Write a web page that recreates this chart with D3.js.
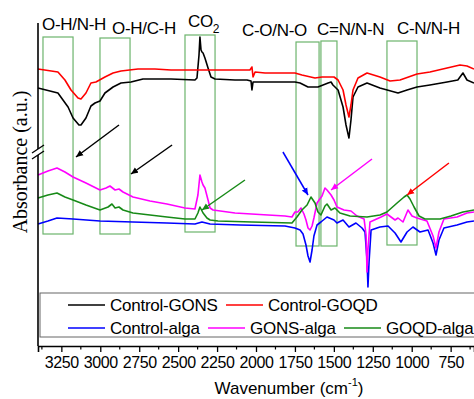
<!DOCTYPE html>
<html>
<head>
<meta charset="utf-8">
<script src="https://cdn.jsdelivr.net/npm/d3@7/dist/d3.min.js"></script>
<style>
  body { margin: 0; background: #fff; }
  svg { display: block; }
  text { font-family: "Liberation Sans", Arial, sans-serif; fill: #000; }
</style>
</head>
<body>
<div id="chart"></div>
<script>
// spectra as [wavenumber (cm-1), absorbance (a.u.)]
const controlGONS = [
  [3400,2.58],[3272,2.53],[3207,2.39],[3175,2.28],[3137,2.21],[3124,2.21],[3092,2.28],[3060,2.40],
  [3034,2.43],[3002,2.45],[2970,2.53],[2918,2.59],[2867,2.63],[2803,2.64],[2726,2.67],[2546,2.67],
  [2392,2.66],[2379,2.68],[2366,2.91],[2360,3.09],[2353,2.96],[2347,2.94],[2340,2.93],[2328,2.88],
  [2308,2.78],[2289,2.69],[2263,2.67],[2135,2.66],[2058,2.66],[2032,2.65],[2026,2.56],[2019,2.64],
  [1942,2.64],[1750,2.64],[1717,2.63],[1666,2.59],[1602,2.59],[1537,2.63],[1518,2.64],[1506,2.61],
  [1473,2.56],[1441,2.39],[1422,2.21],[1403,2.08],[1390,2.26],[1377,2.49],[1345,2.59],[1287,2.63],
  [1204,2.58],[1088,2.53],[1030,2.56],[966,2.59],[883,2.61],[773,2.64],[704,2.66],[671,2.73],
  [645,2.66],[600,2.63]
];
const controlGOQD = [
  [3400,2.77],[3272,2.74],[3227,2.66],[3188,2.56],[3143,2.48],[3124,2.47],[3092,2.53],[3060,2.63],
  [3028,2.64],[2970,2.69],[2918,2.73],[2867,2.75],[2758,2.77],[2649,2.77],[2546,2.76],[2437,2.76],
  [2039,2.76],[2026,2.79],[2019,2.69],[2006,2.74],[1942,2.73],[1750,2.73],[1705,2.71],[1621,2.68],
  [1576,2.69],[1499,2.69],[1473,2.66],[1441,2.56],[1422,2.41],[1403,2.29],[1390,2.41],[1377,2.56],
  [1345,2.68],[1287,2.73],[1204,2.69],[1139,2.65],[1075,2.66],[966,2.72],[883,2.74],[773,2.78],
  [690,2.81],[645,2.80],[600,2.77]
];
const controlAlga = [
  [3400,1.22],[3336,1.25],[3278,1.28],[3175,1.27],[3002,1.25],[2790,1.24],[2572,1.23],[2392,1.22],
  [2347,1.24],[2295,1.22],[2103,1.21],[1814,1.20],[1750,1.18],[1717,1.16],[1698,1.12],[1679,1.01],
  [1666,0.90],[1653,0.84],[1640,0.96],[1628,1.10],[1608,1.21],[1583,1.24],[1544,1.29],[1499,1.26],
  [1480,1.23],[1441,1.26],[1403,1.19],[1358,1.23],[1319,1.18],[1300,1.14],[1287,0.86],[1281,0.59],
  [1274,0.84],[1261,1.16],[1204,1.19],[1152,1.20],[1107,1.13],[1069,1.04],[1030,1.14],[992,1.19],
  [947,1.14],[895,1.16],[863,1.03],[844,0.91],[825,1.06],[793,1.18],[709,1.21],[645,1.24],[600,1.25]
];
const gonsAlga = [
  [3400,1.71],[3336,1.75],[3278,1.78],[3227,1.74],[3175,1.69],[3092,1.63],[3002,1.56],[2963,1.58],
  [2938,1.60],[2905,1.56],[2880,1.57],[2854,1.54],[2790,1.49],[2681,1.45],[2572,1.42],[2456,1.38],
  [2392,1.37],[2373,1.51],[2360,1.71],[2347,1.64],[2340,1.61],[2328,1.58],[2308,1.46],[2295,1.38],
  [2276,1.36],[2135,1.33],[1923,1.31],[1814,1.30],[1769,1.29],[1750,1.34],[1731,1.34],[1711,1.38],
  [1692,1.32],[1679,1.26],[1666,1.18],[1653,1.16],[1640,1.20],[1628,1.28],[1608,1.43],[1595,1.46],
  [1576,1.50],[1557,1.58],[1544,1.56],[1518,1.51],[1499,1.46],[1480,1.39],[1435,1.36],[1390,1.35],
  [1351,1.30],[1306,1.27],[1293,1.11],[1287,0.74],[1281,0.96],[1268,1.24],[1197,1.29],[1159,1.32],
  [1107,1.26],[1088,1.28],[1056,1.24],[1024,1.36],[998,1.30],[966,1.28],[902,1.25],[863,1.10],
  [844,0.98],[825,1.14],[793,1.27],[709,1.29],[645,1.33],[600,1.34]
];
const goqdAlga = [
  [3400,1.48],[3336,1.51],[3278,1.53],[3227,1.49],[3175,1.46],[3092,1.41],[3002,1.36],[2950,1.39],
  [2925,1.42],[2905,1.38],[2880,1.39],[2854,1.36],[2790,1.33],[2681,1.31],[2572,1.29],[2456,1.27],
  [2392,1.27],[2373,1.33],[2360,1.39],[2340,1.33],[2315,1.28],[2295,1.26],[2244,1.25],[2026,1.24],
  [1769,1.23],[1737,1.29],[1705,1.36],[1672,1.41],[1647,1.49],[1621,1.43],[1602,1.34],[1583,1.31],
  [1557,1.40],[1544,1.42],[1518,1.36],[1493,1.38],[1461,1.33],[1396,1.30],[1287,1.29],[1204,1.31],
  [1159,1.34],[1094,1.43],[1049,1.49],[1030,1.51],[1011,1.47],[985,1.39],[953,1.30],[915,1.27],
  [818,1.27],[748,1.30],[671,1.34],[600,1.36]
];

const seriesNames = ['Control-GONS', 'Control-GOQD', 'Control-alga', 'GONS-alga', 'GOQD-alga'];
const seriesColors = ['#000000', '#ff0000', '#0000ff', '#ff00ff', '#178a17'];
const seriesData = [controlGONS, controlGOQD, controlAlga, gonsAlga, goqdAlga];

// band regions in cm-1 with their labels
const bandRanges = [[3368,3175],[3002,2809],[2456,2263],[1743,1595],[1583,1480],[1159,966]];
const bandTop = [3.09, 3.08, 3.11, 3.04, 3.05, 3.05];
const bandBottom = [1.12, 1.12, 1.14, 1.00, 1.00, 1.01];
const bandLabels = ['O-H/N-H', 'O-H/C-H', 'CO', 'C-O/N-O', 'C=N/N-N', 'C-N/N-H'];
const bandLabelPos = [[3374,3.16],[2925,3.12],[2437,3.19],[2090,3.10],[1608,3.11],[1095,3.12]];

// arrows: [fromWn, fromA, toWn, toA]
const arrows = [
  [2880,2.21,3156,1.89],[2539,2.01,2803,1.72],[2071,1.66,2347,1.36],
  [1827,1.94,1666,1.51],[1255,1.87,1518,1.56],[761,1.83,1030,1.51]
];
const arrowColors = ['#000000','#000000','#178a17','#0000ff','#ff00ff','#ff0000'];

const xTicks = [3250, 3000, 2750, 2500, 2250, 2000, 1750, 1500, 1250, 1000, 750];
const xMinorTicks = [3375, 3125, 2875, 2625, 2375, 2125, 1875, 1625, 1375, 1125, 875, 625];

const width = 474, height = 399;
const margin = { top: 23, right: 0, bottom: 53, left: 38 };

const svg = d3.select('#chart').append('svg')
  .attr('width', width)
  .attr('height', height);

const x = d3.scaleLinear().domain([3400, 600]).range([margin.left, width - margin.right]);
const y = d3.scaleLinear().domain([0, 3.23]).range([height - margin.bottom, margin.top]);

// arrow heads
const defs = svg.append('defs');
arrowColors.forEach((c, i) => {
  defs.append('marker')
    .attr('id', 'ah' + i)
    .attr('viewBox', '0 -5 10 10')
    .attr('refX', 10)
    .attr('refY', 0)
    .attr('markerWidth', 7)
    .attr('markerHeight', 7)
    .attr('markerUnits', 'userSpaceOnUse')
    .attr('orient', 'auto')
    .append('path')
    .attr('d', 'M0,-4.5L10,0L0,4.5Z')
    .attr('fill', c);
});

// band boxes
svg.append('g').selectAll('rect')
  .data(bandRanges)
  .join('rect')
  .attr('x', d => x(d[0]))
  .attr('width', d => x(d[1]) - x(d[0]))
  .attr('y', (d, i) => y(bandTop[i]))
  .attr('height', (d, i) => y(bandBottom[i]) - y(bandTop[i]))
  .attr('fill', 'none')
  .attr('stroke', '#6cb46c')
  .attr('stroke-width', 1.2);

// spectra
const line = d3.line().x(d => x(d[0])).y(d => y(d[1]));
svg.append('g').selectAll('path')
  .data(seriesData)
  .join('path')
  .attr('d', line)
  .attr('fill', 'none')
  .attr('stroke', (d, i) => seriesColors[i])
  .attr('stroke-width', 1.6)
  .attr('stroke-linejoin', 'round');

// band labels
const lab = svg.append('g').attr('font-size', 17);
bandLabels.forEach((t, i) => {
  const txt = lab.append('text')
    .attr('x', x(bandLabelPos[i][0]))
    .attr('y', y(bandLabelPos[i][1]))
    .attr('letter-spacing', -0.3)
    .text(t);
  if (t === 'CO') {
    txt.append('tspan').attr('font-size', 12).attr('dy', 6).text('2');
  }
});

// arrows
svg.append('g').selectAll('line')
  .data(arrows)
  .join('line')
  .attr('x1', d => x(d[0]))
  .attr('y1', d => y(d[1]))
  .attr('x2', d => x(d[2]))
  .attr('y2', d => y(d[3]))
  .attr('stroke', (d, i) => arrowColors[i])
  .attr('stroke-width', 1.5)
  .attr('marker-end', (d, i) => `url(#ah${i})`);

// legend
const legendX = 40, legendY = 293;
svg.append('rect')
  .attr('x', legendX).attr('y', legendY)
  .attr('width', 440).attr('height', 44)
  .attr('fill', '#fff')
  .attr('stroke', '#666')
  .attr('stroke-width', 1);
const legendPos = [[68, 305], [226, 305], [68, 328], [208, 328], [344, 328]];
const leg = svg.append('g').attr('font-size', 17).attr('letter-spacing', -0.25);
seriesNames.forEach((name, i) => {
  const [lx, ly] = legendPos[i];
  leg.append('line')
    .attr('x1', lx).attr('x2', lx + 37)
    .attr('y1', ly).attr('y2', ly)
    .attr('stroke', seriesColors[i])
    .attr('stroke-width', 1.5);
  leg.append('text')
    .attr('x', lx + 42)
    .attr('y', ly + 6)
    .text(name);
});

// x axis
const axisY = height - margin.bottom;
const xAxis = svg.append('g').attr('transform', `translate(0,${axisY})`);
xAxis.call(d3.axisBottom(x).tickValues(xTicks).tickSize(6).tickPadding(5).tickFormat(d3.format('d')))
  .call(g => g.select('.domain').attr('stroke-width', 1.6))
  .call(g => g.selectAll('.tick line').attr('stroke-width', 1.3))
  .call(g => g.selectAll('.tick text')
    .attr('font-family', '"Liberation Sans", Arial, sans-serif')
    .attr('font-size', 16)
    .attr('letter-spacing', -0.4));
xAxis.append('g').selectAll('line')
  .data(xMinorTicks)
  .join('line')
  .attr('x1', d => x(d)).attr('x2', d => x(d))
  .attr('y1', 0).attr('y2', 3.5)
  .attr('stroke', '#000')
  .attr('stroke-width', 1.2);

// y axis with break
const breakA = 1.94;
svg.append('line')
  .attr('x1', margin.left).attr('x2', margin.left)
  .attr('y1', margin.top).attr('y2', y(breakA) - 3)
  .attr('stroke', '#000').attr('stroke-width', 1.6);
svg.append('line')
  .attr('x1', margin.left).attr('x2', margin.left)
  .attr('y1', y(breakA) + 3).attr('y2', axisY)
  .attr('stroke', '#000').attr('stroke-width', 1.6);
[-3, 3].forEach(dy => {
  svg.append('line')
    .attr('x1', margin.left - 6).attr('x2', margin.left + 6)
    .attr('y1', y(breakA) + dy + 4).attr('y2', y(breakA) + dy - 4)
    .attr('stroke', '#000').attr('stroke-width', 1.3);
});

// axis titles
const xt = svg.append('text')
  .attr('x', 289)
  .attr('y', 394)
  .attr('text-anchor', 'middle')
  .attr('font-size', 17)
  .text('Wavenumber (cm');
xt.append('tspan').attr('font-size', 11).attr('dy', -8).text('-1');
xt.append('tspan').attr('dy', 8).text(')');

svg.append('text')
  .attr('transform', `translate(27,${162}) rotate(-90)`)
  .attr('text-anchor', 'middle')
  .style('font-family', '"Liberation Serif", "Times New Roman", serif')
  .attr('font-size', 20)
  .text('Absorbance (a.u.)');
</script>
</body>
</html>
